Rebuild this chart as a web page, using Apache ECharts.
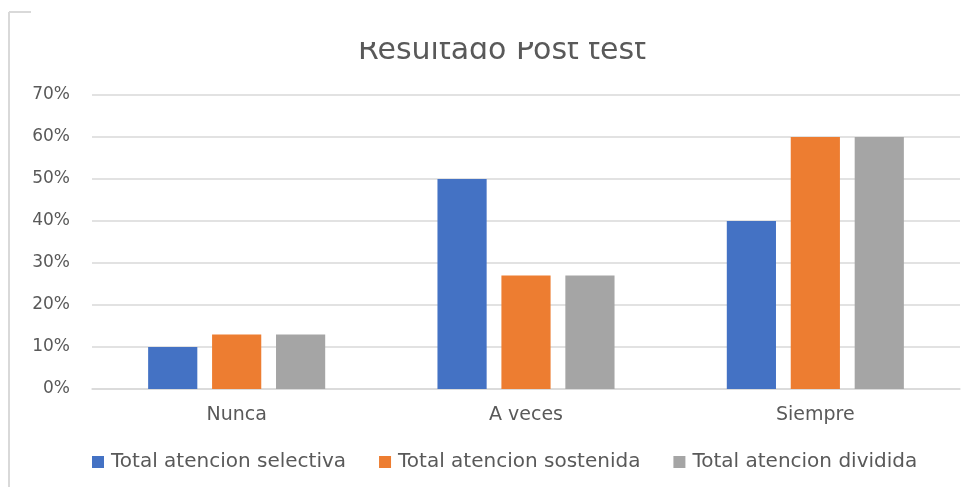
<!DOCTYPE html>
<html>
<head>
<meta charset="utf-8">
<script src="https://cdn.jsdelivr.net/npm/echarts@6/dist/echarts.min.js"></script>
<style>
  html, body { margin: 0; padding: 0; background: #fff; }
  #chart { width: 976px; height: 487px; }
</style>
</head>
<body>
<div id="chart"></div>
<script>
  // datos
  let categorias = ['Nunca', 'A veces', 'Siempre']
  let nombres = ['Total atencion selectiva', 'Total atencion sostenida', 'Total atencion dividida']
  let selectiva = [10, 50, 40]
  let sostenida = [13, 27, 60]
  let dividida = [13, 27, 60]
  let colores = ['#4472C4', '#ED7D31', '#A5A5A5']

  let myChart = echarts.init(document.getElementById('chart'))
  let valores = [selectiva, sostenida, dividida]
  let series = []
  nombres.forEach((item, index) => {
    series.push({
      name: item,
      type: 'bar',
      barWidth: '17%',
      barGap: '30%',
      itemStyle: { color: colores[index] },
      data: valores[index]
    })
  })
  let texto = '#595959'
  let option = {
    animation: false,
    textStyle: { fontFamily: 'DejaVu Sans' },
    title: {
      text: 'Resultado Post test',
      left: 353,
      top: 31,
      textStyle: { fontSize: 30, fontWeight: 'normal', color: texto }
    },
    legend: {
      data: nombres,
      left: 87,
      top: 447,
      itemWidth: 12,
      itemHeight: 12,
      itemGap: 33,
      icon: 'rect',
      textStyle: { fontSize: 20, color: texto, padding: [0, 0, 0, 2] }
    },
    grid: {
      left: 92,
      right: 16,
      top: 95,
      bottom: 98,
      containLabel: false
    },
    xAxis: {
      type: 'category',
      data: categorias,
      axisTick: { show: false },
      axisLine: { lineStyle: { color: '#d9d9d9', width: 1.5 } },
      axisLabel: { fontSize: 19, color: texto, margin: 17 }
    },
    yAxis: {
      type: 'value',
      min: 0,
      max: 70,
      interval: 10,
      axisLabel: { formatter: '{value}%', fontSize: 17, color: texto, margin: 22 },
      splitLine: { lineStyle: { color: '#d9d9d9', width: 1.5 } }
    },
    graphic: [
      { type: 'rect', z: 100, shape: { x: 31, y: 0, width: 945, height: 42 }, style: { fill: '#fff' } },
      { type: 'line', z: 100, shape: { x1: 9, y1: 12, x2: 9, y2: 487 }, style: { stroke: '#d9d9d9', lineWidth: 2 } },
      { type: 'line', z: 100, shape: { x1: 9, y1: 12, x2: 31, y2: 12 }, style: { stroke: '#d9d9d9', lineWidth: 2 } }
    ],
    series: series
  }
  myChart.setOption(option)
</script>
</body>
</html>
